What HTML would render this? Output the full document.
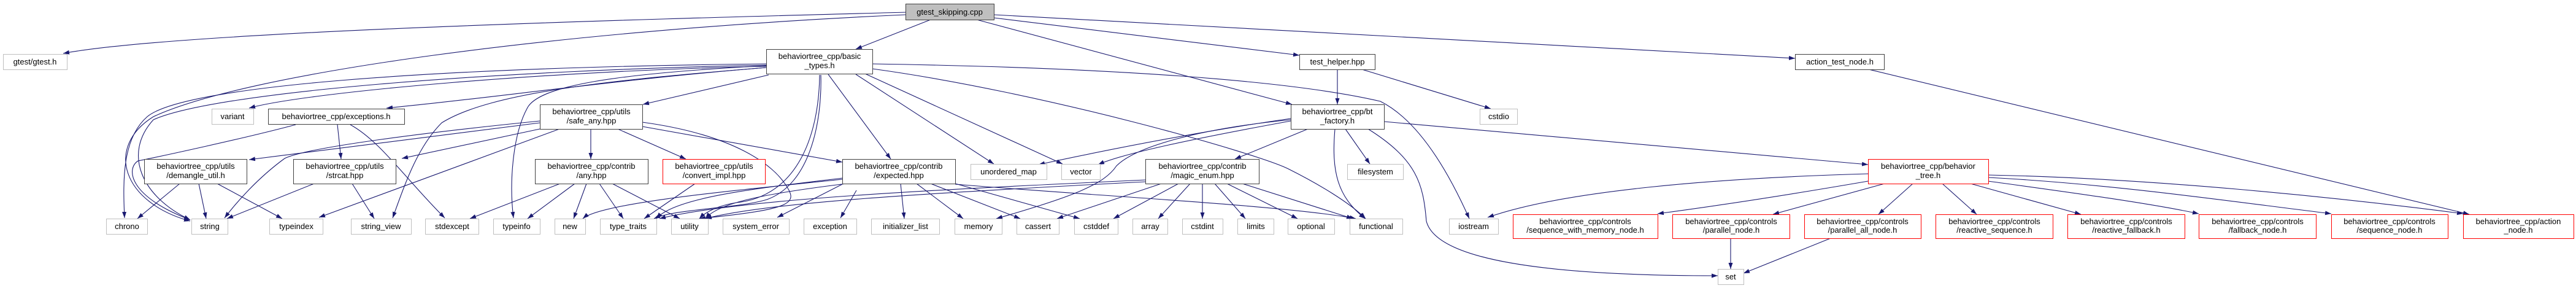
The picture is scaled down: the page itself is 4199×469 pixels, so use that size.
<!DOCTYPE html>
<html><head><meta charset="utf-8"><style>
html,body{margin:0;padding:0;background:#fff;}
svg{display:block;}
text{font-family:"Liberation Sans",sans-serif;font-size:13px;fill:#000;}
</style></head><body>
<svg width="4199" height="469" viewBox="0 0 4199 469" xmlns="http://www.w3.org/2000/svg">
<defs><marker id="a" markerWidth="11" markerHeight="8" refX="10" refY="3.5" orient="auto" markerUnits="userSpaceOnUse"><path d="M0,0 L10,3.5 L0,7 z" fill="#191970"/></marker></defs>
<g fill="none" stroke="#191970" stroke-width="1.1" marker-end="url(#a)">
<path d="M1476,20 C1100,30 300,50 103,87"/>
<path d="M1476,24 C900,50 400,120 250,190 C170,240 200,330 310,360"/>
<path d="M1249,104 C700,110 300,140 240,190 C200,225 200,290 203,355"/>
<path d="M1249,106 C800,115 350,150 250,195 C200,250 230,320 310,358"/>
<path d="M1249,108 C900,115 500,150 406,176"/>
<path d="M1249,110 C1000,130 800,160 630,176"/>
<path d="M1253,122 L1048,170"/>
<path d="M1249,107 C1000,120 880,140 860,175 C835,220 830,300 837,355"/>
<path d="M1249,110 C1000,130 800,150 720,200 C680,240 660,300 640,355"/>
<path d="M1338,122 C1340,200 1320,300 1250,325 C1200,340 1100,340 1066,356"/>
<path d="M1336,122 C1335,220 1300,320 1200,330 C1170,335 1150,345 1140,356"/>
<path d="M1350,121 L1452,259"/>
<path d="M1395,121 L1620,267"/>
<path d="M1410,120 L1732,267"/>
<path d="M1422,112 C1700,150 2050,250 2100,275 C2150,300 2200,330 2226,356"/>
<path d="M1422,104 C1800,110 2100,130 2250,165 C2320,200 2370,300 2395,356"/>
<path d="M1517,32 L1395,80"/>
<path d="M1620,29 L2118,90"/>
<path d="M1592,32 L2106,170"/>
<path d="M1620,24 L2926,95"/>
<path d="M963,210 L963,259"/>
<path d="M1007,210 L1118,259"/>
<path d="M1047,206 L1373,264"/>
<path d="M880,197 C700,215 500,240 464,258 C420,290 385,330 366,355"/>
<path d="M880,200 L406,260"/>
<path d="M880,210 L655,258"/>
<path d="M912,210 L520,354"/>
<path d="M1047,199 C1200,220 1260,270 1280,300 C1300,330 1300,340 1140,356"/>
<path d="M482,203 C400,225 260,255 225,262 C205,275 210,320 310,358"/>
<path d="M550,203 L556,259"/>
<path d="M571,203 C620,230 660,290 725,355"/>
<path d="M293,299 L224,356"/>
<path d="M324,299 L336,356"/>
<path d="M354,299 L460,356"/>
<path d="M512,299 L370,356"/>
<path d="M574,299 L610,356"/>
<path d="M913,299 L766,356"/>
<path d="M937,299 L860,356"/>
<path d="M956,299 L935,356"/>
<path d="M977,299 L1016,356"/>
<path d="M998,299 L1108,356"/>
<path d="M1133,299 L1050,356"/>
<path d="M1373,300 L1267,354"/>
<path d="M1396,310 L1370,355"/>
<path d="M1468,299 L1474,356"/>
<path d="M1494,299 L1570,356"/>
<path d="M1517,299 L1663,356"/>
<path d="M1557,299 L1760,356"/>
<path d="M1373,290 C1250,305 1100,320 1070,356"/>
<path d="M1380,299 C1250,315 1170,330 1150,356"/>
<path d="M1373,292 C1200,310 980,330 950,356"/>
<path d="M1557,300 C1800,320 2100,335 2210,356"/>
<path d="M2104,195 C1950,210 1850,240 1820,270 C1800,300 1750,320 1624,356"/>
<path d="M1893,299 L1723,356"/>
<path d="M1921,299 L1815,356"/>
<path d="M1940,299 L1888,356"/>
<path d="M1960,299 L1960,356"/>
<path d="M1980,299 L2030,356"/>
<path d="M2000,299 L2115,356"/>
<path d="M2025,299 L2205,356"/>
<path d="M1867,293 C1500,310 1200,325 1075,356"/>
<path d="M1867,296 C1500,315 1250,330 1150,356"/>
<path d="M2104,193 C1950,215 1800,245 1693,268"/>
<path d="M2104,197 C1950,225 1830,250 1790,268"/>
<path d="M2132,210 L2013,259"/>
<path d="M2193,210 L2233,267"/>
<path d="M2176,210 C2170,280 2180,320 2225,356"/>
<path d="M2230,210 C2310,260 2320,300 2325,360 C2340,420 2500,449 2800,449"/>
<path d="M2256,198 L3045,268"/>
<path d="M2180,113 L2180,170"/>
<path d="M2220,113 L2430,177"/>
<path d="M3046,113 L4025,349"/>
<path d="M3045,283 C2800,290 2550,310 2425,354"/>
<path d="M3045,295 C2900,320 2800,335 2702,348"/>
<path d="M3072,299 L2890,349"/>
<path d="M3118,299 L3062,349"/>
<path d="M3166,299 L3222,349"/>
<path d="M3212,299 L3392,349"/>
<path d="M3241,295 C3350,310 3500,330 3584,348"/>
<path d="M3241,289 C3450,300 3650,330 3800,348"/>
<path d="M3241,285 C3500,290 3800,320 4015,348"/>
<path d="M2821,388 L2821,438"/>
<path d="M2984,388 L2842,445"/>
</g>
<g stroke-width="1" fill="#fff">
<rect x="1476.5" y="6.5" width="144" height="26" fill="#bfbfbf" stroke="#404040"/>
<g stroke="#bfbfbf">
<rect x="5.5" y="88.5" width="104" height="25"/>
<rect x="345.5" y="177.5" width="68" height="25"/>
<rect x="173.5" y="356.5" width="67" height="25"/>
<rect x="312.5" y="356.5" width="59" height="25"/>
<rect x="439.5" y="356.5" width="87" height="25"/>
<rect x="572.5" y="356.5" width="98" height="25"/>
<rect x="693.5" y="356.5" width="87" height="25"/>
<rect x="804.5" y="356.5" width="76" height="25"/>
<rect x="904.5" y="356.5" width="50" height="25"/>
<rect x="978.5" y="356.5" width="92" height="25"/>
<rect x="1094.5" y="356.5" width="60" height="25"/>
<rect x="1178.5" y="356.5" width="108" height="25"/>
<rect x="1310.5" y="356.5" width="86" height="25"/>
<rect x="1420.5" y="356.5" width="111" height="25"/>
<rect x="1556.5" y="356.5" width="77" height="25"/>
<rect x="1657.5" y="356.5" width="69" height="25"/>
<rect x="1751.5" y="356.5" width="71" height="25"/>
<rect x="1846.5" y="356.5" width="57" height="25"/>
<rect x="1927.5" y="356.5" width="66" height="25"/>
<rect x="2017.5" y="356.5" width="59" height="25"/>
<rect x="2099.5" y="356.5" width="76" height="25"/>
<rect x="2200.5" y="356.5" width="86" height="25"/>
<rect x="2362.5" y="356.5" width="80" height="25"/>
<rect x="1582.5" y="267.5" width="124" height="25"/>
<rect x="1730.5" y="267.5" width="63" height="25"/>
<rect x="2196.5" y="267.5" width="91" height="25"/>
<rect x="2412.5" y="177.5" width="61" height="25"/>
<rect x="2800.5" y="438.5" width="42" height="25"/>
</g>
<g stroke="#404040">
<rect x="1249.5" y="80.5" width="173" height="40"/>
<rect x="437.5" y="177.5" width="222" height="25"/>
<rect x="235.5" y="259.5" width="167" height="40"/>
<rect x="478.5" y="259.5" width="167" height="40"/>
<rect x="880.5" y="170.5" width="167" height="40"/>
<rect x="872.5" y="259.5" width="184" height="40"/>
<rect x="1373.5" y="259.5" width="184" height="40"/>
<rect x="1867.5" y="259.5" width="185" height="40"/>
<rect x="2118.5" y="88.5" width="123" height="25"/>
<rect x="2104.5" y="170.5" width="152" height="40"/>
<rect x="2926.5" y="88.5" width="145" height="25"/>
</g>
<g stroke="#ff0000">
<rect x="1080.5" y="259.5" width="167" height="40"/>
<rect x="3045.5" y="259.5" width="196" height="40"/>
<rect x="2466.5" y="349.5" width="236" height="39"/>
<rect x="2726.5" y="349.5" width="191" height="39"/>
<rect x="2941.5" y="349.5" width="190" height="39"/>
<rect x="3155.5" y="349.5" width="191" height="39"/>
<rect x="3370.5" y="349.5" width="191" height="39"/>
<rect x="3584.5" y="349.5" width="191" height="39"/>
<rect x="3800.5" y="349.5" width="190" height="39"/>
<rect x="4015.5" y="349.5" width="180" height="39"/>
</g>
</g>
<g text-anchor="middle">
<text x="1548" y="24">gtest_skipping.cpp</text>
<text x="57" y="105">gtest/gtest.h</text>
<text x="379" y="194">variant</text>
<text x="207" y="373">chrono</text>
<text x="342" y="373">string</text>
<text x="483" y="373">typeindex</text>
<text x="621" y="373">string_view</text>
<text x="737" y="373">stdexcept</text>
<text x="842" y="373">typeinfo</text>
<text x="929" y="373">new</text>
<text x="1024" y="373">type_traits</text>
<text x="1124" y="373">utility</text>
<text x="1232" y="373">system_error</text>
<text x="1353" y="373">exception</text>
<text x="1476" y="373">initializer_list</text>
<text x="1595" y="373">memory</text>
<text x="1692" y="373">cassert</text>
<text x="1787" y="373">cstddef</text>
<text x="1875" y="373">array</text>
<text x="1960" y="373">cstdint</text>
<text x="2047" y="373">limits</text>
<text x="2137" y="373">optional</text>
<text x="2243" y="373">functional</text>
<text x="2402" y="373">iostream</text>
<text x="1644" y="284">unordered_map</text>
<text x="1762" y="284">vector</text>
<text x="2242" y="284">filesystem</text>
<text x="2443" y="194">cstdio</text>
<text x="2821" y="455">set</text>
<text x="1336" y="96">behaviortree_cpp/basic</text>
<text x="1336" y="111">_types.h</text>
<text x="548" y="194">behaviortree_cpp/exceptions.h</text>
<text x="319" y="275">behaviortree_cpp/utils</text>
<text x="319" y="290">/demangle_util.h</text>
<text x="562" y="275">behaviortree_cpp/utils</text>
<text x="562" y="290">/strcat.hpp</text>
<text x="964" y="186">behaviortree_cpp/utils</text>
<text x="964" y="201">/safe_any.hpp</text>
<text x="964" y="275">behaviortree_cpp/contrib</text>
<text x="964" y="290">/any.hpp</text>
<text x="1164" y="275">behaviortree_cpp/utils</text>
<text x="1164" y="290">/convert_impl.hpp</text>
<text x="1465" y="275">behaviortree_cpp/contrib</text>
<text x="1465" y="290">/expected.hpp</text>
<text x="1960" y="275">behaviortree_cpp/contrib</text>
<text x="1960" y="290">/magic_enum.hpp</text>
<text x="2180" y="105">test_helper.hpp</text>
<text x="2180" y="186">behaviortree_cpp/bt</text>
<text x="2180" y="201">_factory.h</text>
<text x="2999" y="105">action_test_node.h</text>
<text x="3143" y="275">behaviortree_cpp/behavior</text>
<text x="3143" y="290">_tree.h</text>
<text x="2584" y="365">behaviortree_cpp/controls</text>
<text x="2584" y="379">/sequence_with_memory_node.h</text>
<text x="2822" y="365">behaviortree_cpp/controls</text>
<text x="2822" y="379">/parallel_node.h</text>
<text x="3036" y="365">behaviortree_cpp/controls</text>
<text x="3036" y="379">/parallel_all_node.h</text>
<text x="3251" y="365">behaviortree_cpp/controls</text>
<text x="3251" y="379">/reactive_sequence.h</text>
<text x="3466" y="365">behaviortree_cpp/controls</text>
<text x="3466" y="379">/reactive_fallback.h</text>
<text x="3680" y="365">behaviortree_cpp/controls</text>
<text x="3680" y="379">/fallback_node.h</text>
<text x="3895" y="365">behaviortree_cpp/controls</text>
<text x="3895" y="379">/sequence_node.h</text>
<text x="4105" y="365">behaviortree_cpp/action</text>
<text x="4105" y="379">_node.h</text>
</g>
</svg>
</body></html>
